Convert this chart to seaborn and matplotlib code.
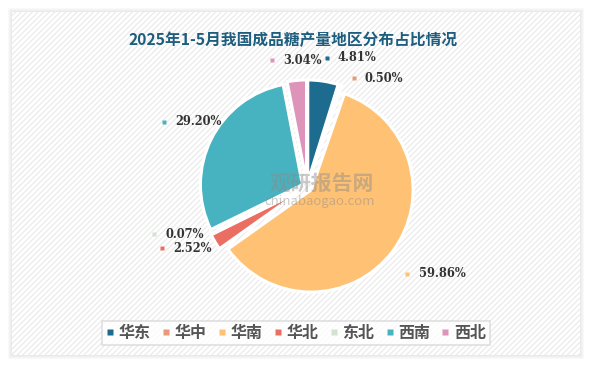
import numpy as np
import matplotlib
matplotlib.use("Agg")
import matplotlib.pyplot as plt
from matplotlib.patches import Rectangle
import seaborn as sns

# ---- data ----
regions = ["华东", "华中", "华南", "华北", "东北", "西南", "西北"]
shares = [4.81, 0.50, 59.86, 2.52, 0.07, 29.20, 3.04]
colors = ["#1d6b8e", "#e8997c", "#ffc274", "#ea6f62", "#d3e2d1", "#48b3c0", "#de93ba"]
title = "2025年1-5月我国成品糖产量地区分布占比情况"

sns.set_theme(style="white")
plt.rcParams["font.family"] = ["Noto Sans CJK SC", "DejaVu Sans"]
plt.rcParams["hatch.linewidth"] = 0.8
plt.rcParams["hatch.color"] = "#e9e9e9"

W, H = 590, 365
fig = plt.figure(figsize=(W / 100, H / 100), dpi=100)
fig.patch.set_facecolor("white")

# card with soft shadow and hatched background
for i, a in enumerate([0.05, 0.05, 0.05, 0.05]):
    d = 4 - i
    fig.patches.append(Rectangle(((12 - d) / W, (H - 355 - d) / H), (568 + 2 * d) / W, (343 + 2 * d) / H,
                                 transform=fig.transFigure, facecolor="#999999", alpha=a,
                                 edgecolor="none", zorder=-3))
fig.patches.append(Rectangle((12 / W, (H - 355) / H), 568 / W, 343 / H, transform=fig.transFigure,
                             facecolor="white", edgecolor="#e9e9e9", hatch="//////", lw=0, zorder=-2))

# pie axes: square, centred at (307,187) px, radius 102 px
side = 320
cx, cy = 307, 187
R = 102
ax = fig.add_axes([(cx - side / 2) / W, (H - cy - side / 2) / H, side / W, side / H])
ax.set_zorder(1)
lim = (side / 2) / R
ax.set_aspect("equal")
ax.axis("off")
ax.patch.set_alpha(0)

wedges, _ = ax.pie(shares, colors=colors, startangle=90, counterclock=False,
                   explode=[0.05] * len(shares), radius=1.0,
                   wedgeprops=dict(edgecolor="white", linewidth=2.2))
ax.set_xlim(-lim, lim)
ax.set_ylim(-lim, lim)

# labels: small coloured square + value text, placed around mid-angle
ang_off = {0: 0, 1: -5, 2: -4, 3: -8, 4: -9, 5: 2, 6: 10}
dist = {0: 1.28, 1: 1.16, 2: 1.3, 3: 1.54, 4: 1.57, 5: 1.54, 6: 1.29}
for i, w in enumerate(wedges):
    mid = (w.theta1 + w.theta2) / 2 + ang_off[i]
    r = dist[i]
    x = r * np.cos(np.deg2rad(mid))
    y = r * np.sin(np.deg2rad(mid))
    ax.plot([x], [y], marker="s", ms=3.5, color=colors[i], mec="none", clip_on=False)
    ax.text(x + 0.11, y, f"{shares[i]:.2f}%", ha="left", va="center", fontsize=8.3,
            fontweight="bold", color="#333333", family=["DejaVu Serif"])

# watermark
fig.text(322 / W, 1 - 183 / H, "观研报告网", ha="center", va="center", fontsize=15,
         fontweight="bold", color="#8a8a8a", alpha=0.45, zorder=5)
fig.text(320 / W, 1 - 202 / H, "chinabaogao.com", ha="center", va="center", fontsize=9.5,
         color="#8a8a8a", alpha=0.45, zorder=5)

# title
fig.text(293 / W, 1 - 40 / H, title, ha="center", va="center", fontsize=11.3,
         fontweight="bold", color="#1d5d7e")

# legend
handles = [plt.Line2D([], [], marker="s", ls="none", ms=5, color=c, mec="none") for c in colors]
leg = fig.legend(handles, regions, loc="center", bbox_to_anchor=(296 / W, 1 - 333 / H), ncol=7,
                 frameon=True, fontsize=11.5, handlelength=0.5, handletextpad=0.3,
                 columnspacing=0.7, borderpad=0.25, fancybox=False)
leg.get_frame().set_edgecolor("#d8d8d8")
leg.get_frame().set_linewidth(1.2)
leg.get_frame().set_facecolor("white")
for t in leg.get_texts():
    t.set_color("#555555")
    t.set_fontweight("bold")

fig.savefig("out.png", dpi=100)
